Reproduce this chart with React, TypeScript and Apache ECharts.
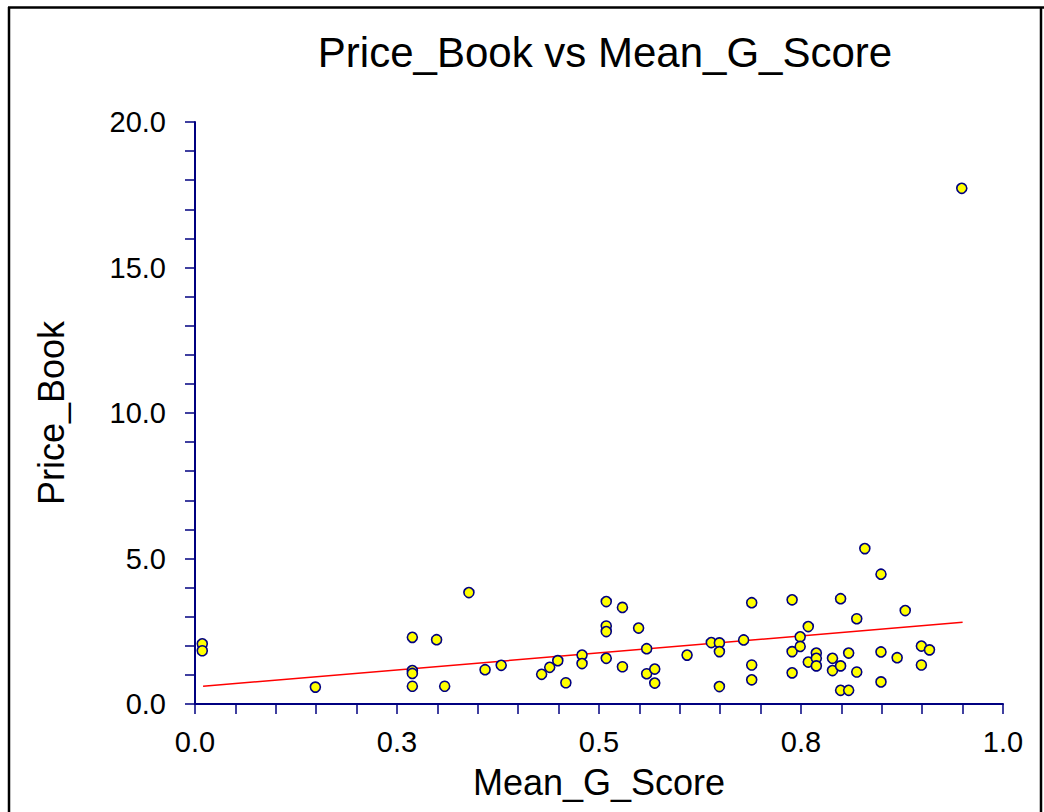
import React, { useEffect, useRef } from "react";
import * as echarts from "echarts";

const titleText = "Price_Book vs Mean_G_Score";
const xAxisName = "Mean_G_Score";
const yAxisName = "Price_Book";

const meanGScore = [
  0.009, 0.009, 0.149, 0.269, 0.269, 0.269, 0.269, 0.299, 0.309, 0.339,
  0.359, 0.379, 0.429, 0.439, 0.449, 0.459, 0.479, 0.479, 0.509, 0.509,
  0.509, 0.509, 0.529, 0.529, 0.549, 0.559, 0.559, 0.569, 0.569, 0.609,
  0.639, 0.649, 0.649, 0.649, 0.679, 0.689, 0.689, 0.689, 0.739, 0.739,
  0.739, 0.749, 0.749, 0.759, 0.759, 0.769, 0.769, 0.769, 0.789, 0.789,
  0.799, 0.799, 0.799, 0.809, 0.809, 0.819, 0.819, 0.829, 0.849, 0.849,
  0.849, 0.869, 0.879, 0.899, 0.899, 0.909, 0.949,
];
const priceBook = [
  2.07, 1.83, 0.58, 2.29, 1.15, 1.05, 0.61, 2.21, 0.61, 3.83,
  1.18, 1.33, 1.02, 1.26, 1.49, 0.73, 1.68, 1.39, 3.52, 2.68,
  2.49, 1.57, 3.32, 1.28, 2.61, 1.9, 1.04, 1.2, 0.72, 1.68,
  2.11, 2.1, 1.8, 0.6, 2.2, 3.48, 1.34, 0.83, 3.58, 1.8,
  1.07, 2.31, 1.98, 2.66, 1.44, 1.75, 1.57, 1.31, 1.57, 1.15,
  3.62, 1.31, 0.47, 1.75, 0.47, 2.93, 1.1, 5.34, 4.46, 1.79,
  0.76, 1.59, 3.21, 1.99, 1.34, 1.86, 17.72,
];
// regression line end points
const fitX = [0.01, 0.95];
const fitY = [0.61, 2.81];

const NAVY = "#000080";
const FONT = "'Liberation Sans', Arial, sans-serif";

export default function App() {
  const ref = useRef<HTMLDivElement>(null);
  useEffect(() => {
    if (!ref.current) return;
    const chart = echarts.init(ref.current, undefined, { renderer: "svg" });
    const points = meanGScore.map((x, i) => [x, priceBook[i]]);
    const fit = fitX.map((x, i) => [x, fitY[i]]);
    chart.setOption({
      animation: false,
      backgroundColor: "#ffffff",
      title: {
        text: titleText,
        left: 600,
        textAlign: "center",
        top: 26,
        textStyle: { fontFamily: FONT, fontSize: 42, fontWeight: "normal", color: "#000" },
      },
      grid: { left: 195, right: 41, top: 122, bottom: 108, containLabel: false },
      xAxis: {
        type: "value",
        min: 0,
        max: 1,
        interval: 0.25,
        name: xAxisName,
        nameLocation: "middle",
        nameGap: 60,
        nameTextStyle: { fontFamily: FONT, fontSize: 36, color: "#000" },
        axisLine: { show: true, onZero: false, lineStyle: { color: NAVY, width: 2 } },
        axisTick: { show: true, length: 10, lineStyle: { color: NAVY, width: 1.5 } },
        minorTick: { show: true, splitNumber: 5, length: 10, lineStyle: { color: NAVY, width: 1.5 } },
        axisLabel: {
          margin: 23,
          fontFamily: FONT,
          fontSize: 29,
          color: "#000",
          formatter: (v: number) => v.toFixed(1),
        },
        splitLine: { show: false },
      },
      yAxis: {
        type: "value",
        min: 0,
        max: 20,
        interval: 5,
        name: yAxisName,
        nameLocation: "middle",
        nameGap: 126,
        nameTextStyle: { fontFamily: FONT, fontSize: 36, color: "#000" },
        axisLine: { show: true, onZero: false, lineStyle: { color: NAVY, width: 2 } },
        axisTick: { show: true, length: 10, lineStyle: { color: NAVY, width: 1.5 } },
        minorTick: { show: true, splitNumber: 5, length: 10, lineStyle: { color: NAVY, width: 1.5 } },
        axisLabel: {
          margin: 29,
          fontFamily: FONT,
          fontSize: 29,
          color: "#000",
          formatter: (v: number) => v.toFixed(1),
        },
        splitLine: { show: false },
      },
      graphic: [
        { type: "line", shape: { x1: 8, y1: 7.5, x2: 1044, y2: 7.5 }, style: { stroke: "#000", lineWidth: 2.5 } },
        { type: "line", shape: { x1: 9, y1: 7, x2: 9, y2: 812 }, style: { stroke: "#000", lineWidth: 2.5 } },
        { type: "line", shape: { x1: 1041, y1: 7, x2: 1041, y2: 812 }, style: { stroke: "#000", lineWidth: 2.5 } },
      ],
      series: [
        {
          type: "line",
          data: fit,
          showSymbol: false,
          symbol: "none",
          lineStyle: { color: "#ff0000", width: 1.5 },
          z: 2,
        },
        {
          type: "scatter",
          data: points,
          symbol: "circle",
          symbolSize: 10,
          itemStyle: { color: "#ffff00", borderColor: NAVY, borderWidth: 1.6, opacity: 1 },
          z: 3,
        },
      ],
    });
    return () => chart.dispose();
  }, []);
  return (
    <div
      ref={ref}
      style={{ position: "fixed", left: 0, top: 0, width: 1044, height: 812, background: "#fff" }}
    />
  );
}
